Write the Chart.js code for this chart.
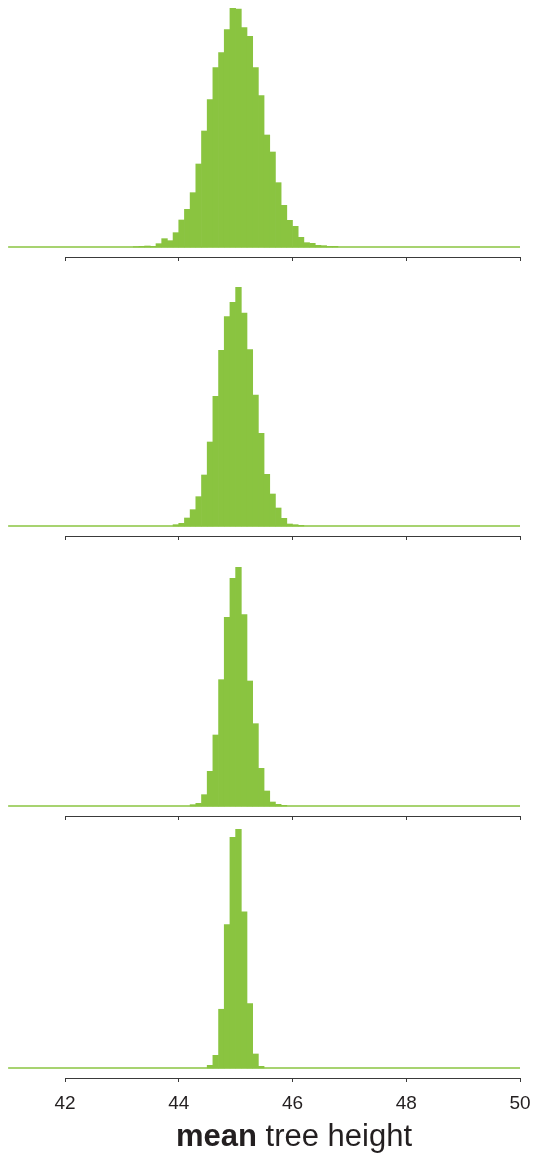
<!DOCTYPE html>
<html>
<head>
<meta charset="utf-8">
<script src="https://cdn.jsdelivr.net/npm/chart.js@4.4.1/dist/chart.umd.min.js"></script>
<style>
  html, body { margin: 0; padding: 0; background: #ffffff; }
  #wrap { position: relative; width: 533px; height: 1154px; overflow: hidden; background: #fff; }
  .panel { position: absolute; left: 0; width: 533px; }
  #title {
    position: absolute; left: 0; width: 588px; top: 1120px; text-align: center;
    font-family: "Liberation Sans", Arial, Helvetica, sans-serif; font-size: 31px;
    line-height: 31px; color: #231F20; white-space: nowrap;
  }
  #title b { font-weight: bold; }
</style>
</head>
<body>
<div id="wrap">
  <div class="panel" style="top:0px;height:262px"><canvas id="c1"></canvas></div>
  <div class="panel" style="top:279px;height:262px"><canvas id="c2"></canvas></div>
  <div class="panel" style="top:559px;height:262px"><canvas id="c3"></canvas></div>
  <div class="panel" style="top:821px;height:317px"><canvas id="c4"></canvas></div>
  <div id="title"><b>mean</b> tree height</div>
</div>
<script>
// ---- data (bin centres, width 0.1; relative frequencies) ----
const bins1 = [43.25,43.35,43.45,43.55,43.65,43.75,43.85,43.95,44.05,44.15,44.25,44.35,44.45,44.55,44.65,44.75,44.85,44.95,45.05,45.15,45.25,45.35,45.45,45.55,45.65,45.75,45.85,45.95,46.05,46.15,46.25,46.35,46.45,46.55,46.65,46.75];
const freq1 = [1,2,3,2,10,25,19,43,81,113,163,249,348,442,538,583,652,717,714,658,632,538,454,336,285,193,125,80,62,29,13,11,5,4,2,2];

const bins2 = [43.95,44.05,44.15,44.25,44.35,44.45,44.55,44.65,44.75,44.85,44.95,45.05,45.15,45.25,45.35,45.45,45.55,45.65,45.75,45.85,45.95,46.05,46.15];
const freq2 = [4,8,24,49,88,153,252,389,527,628,671,717,639,529,393,278,155,96,54,23,6,4,2];

const bins3 = [44.25,44.35,44.45,44.55,44.65,44.75,44.85,44.95,45.05,45.15,45.25,45.35,45.45,45.55,45.65,45.75,45.85];
const freq3 = [4,8,34,104,213,379,566,683,717,574,375,247,113,45,12,5,2];

const bins4 = [44.55,44.65,44.75,44.85,44.95,45.05,45.15,45.25,45.35,45.45];
const freq4 = [8,38,176,430,691,716,468,193,42,5];

const xTicks = [42, 44, 46, 48, 50];
const xTitleBold = "mean";
const xTitleRest = " tree height";
const baselineRange = [41, 50];

// ---- styles ----
const GREEN = "#8AC440";
const AXIS = "#3a3a3a";
const TEXT = "#231F20";
const FONT = '"Liberation Sans", Arial, Helvetica, sans-serif';

function makePanel(id, bins, freq, showLabels) {
  const peak = Math.max(...freq);
  const barData = bins.map((b, i) => ({ x: b, y: freq[i] }));
  const baseData = baselineRange.map(v => ({ x: v, y: 0 }));
  new Chart(document.getElementById(id), {
    type: 'bar',
    data: {
      datasets: [
        {
          type: 'line', data: baseData, borderColor: GREEN, borderWidth: 1.4,
          pointRadius: 0, clip: false, order: 2
        },
        {
          type: 'bar', data: barData, backgroundColor: GREEN, borderWidth: 0,
          barPercentage: 1.0, categoryPercentage: 1.0, order: 1
        }
      ]
    },
    options: {
      responsive: true, maintainAspectRatio: false, animation: false,
      devicePixelRatio: 1,
      layout: { padding: { left: 65, right: 13, top: 8, bottom: 0 } },
      plugins: { legend: { display: false }, tooltip: { enabled: false }, title: { display: false } },
      scales: {
        x: {
          type: 'linear', min: 42, max: 50, position: 'bottom', offset: false,
          afterBuildTicks: s => { s.ticks = xTicks.map(v => ({ value: v })); },
          afterFit: s => { s.height = showLabels ? 60 : 5; s.paddingLeft = 0; s.paddingRight = 0; },
          border: { display: true, color: AXIS, width: 1 },
          grid: { offset: false, drawOnChartArea: false, drawTicks: true, tickLength: 4, color: AXIS, lineWidth: 1 },
          ticks: {
            display: showLabels, color: TEXT, padding: 10, maxRotation: 0,
            font: { family: FONT, size: 19 }
          }
        },
        y: {
          display: false, min: -peak * 10 / 239, max: peak
        }
      }
    }
  });
}

makePanel('c1', bins1, freq1, false);
makePanel('c2', bins2, freq2, false);
makePanel('c3', bins3, freq3, false);
makePanel('c4', bins4, freq4, true);

document.getElementById('title').innerHTML = '<b>' + xTitleBold + '</b>' + xTitleRest;
</script>
</body>
</html>
